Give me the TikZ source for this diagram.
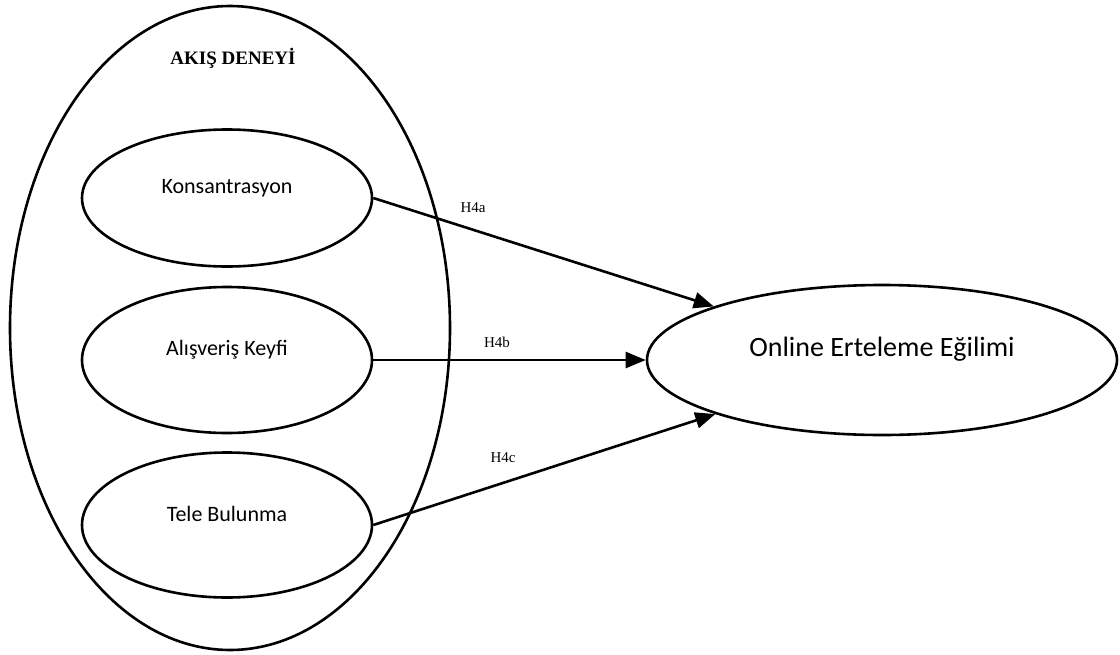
\documentclass[tikz,border=0pt]{standalone}
\usepackage{fontspec}
\setmainfont{Carlito}
\newfontfamily\serifface{Liberation Serif}
\usetikzlibrary{shapes.geometric,arrows.meta}
\begin{document}
\begin{tikzpicture}[x=1pt,y=-1pt,
  oval/.style={ellipse,draw,line width=2.6pt,inner sep=0pt},
  subconstruct/.style={oval,minimum width=290pt},
  construct/.style={font=\fontsize{22}{26}\selectfont},
  hyp/.style={font=\serifface\fontsize{15}{18}\selectfont},
  link/.style={line width=2.6pt,-{Triangle[length=20pt,width=16pt]}}]
\useasboundingbox (0,0) rectangle (1120,654);

% outer construct and its three dimensions
\node[oval,minimum width=440pt,minimum height=644pt] (flow) at (230,328) {};
\node[font=\serifface\bfseries\fontsize{19}{22}\selectfont] (flowtitle) at (233,58) {AKIŞ DENEYİ};

\node[subconstruct,minimum height=137pt] (kons) at (227,198) {};
\node[subconstruct,minimum height=146pt] (keyf) at (227,360) {};
\node[subconstruct,minimum height=145pt] (tele) at (227,525) {};
\node[construct] (konstext) at (227,188) {Konsantrasyon};
\node[construct] (keyftext) at (227,350) {Alışveriş Keyfi};
\node[construct] (teletext) at (227,514) {Tele Bulunma};

% dependent construct
\node[oval,minimum width=470pt,minimum height=150pt] (oee) at (882,360) {};
\node[font=\fontsize{28}{32}\selectfont] (oeetext) at (882,349) {Online Erteleme Eğilimi};

% hypothesised paths
\draw[link] (kons.east) -- (oee);
\draw[link] (keyf.east) -- (oee);
\draw[link] (tele.east) -- (oee);

\node[hyp] (h4a) at (473,208) {H4a};
\node[hyp] (h4b) at (497,342) {H4b};
\node[hyp] (h4c) at (503,458) {H4c};
\end{tikzpicture}
\end{document}
